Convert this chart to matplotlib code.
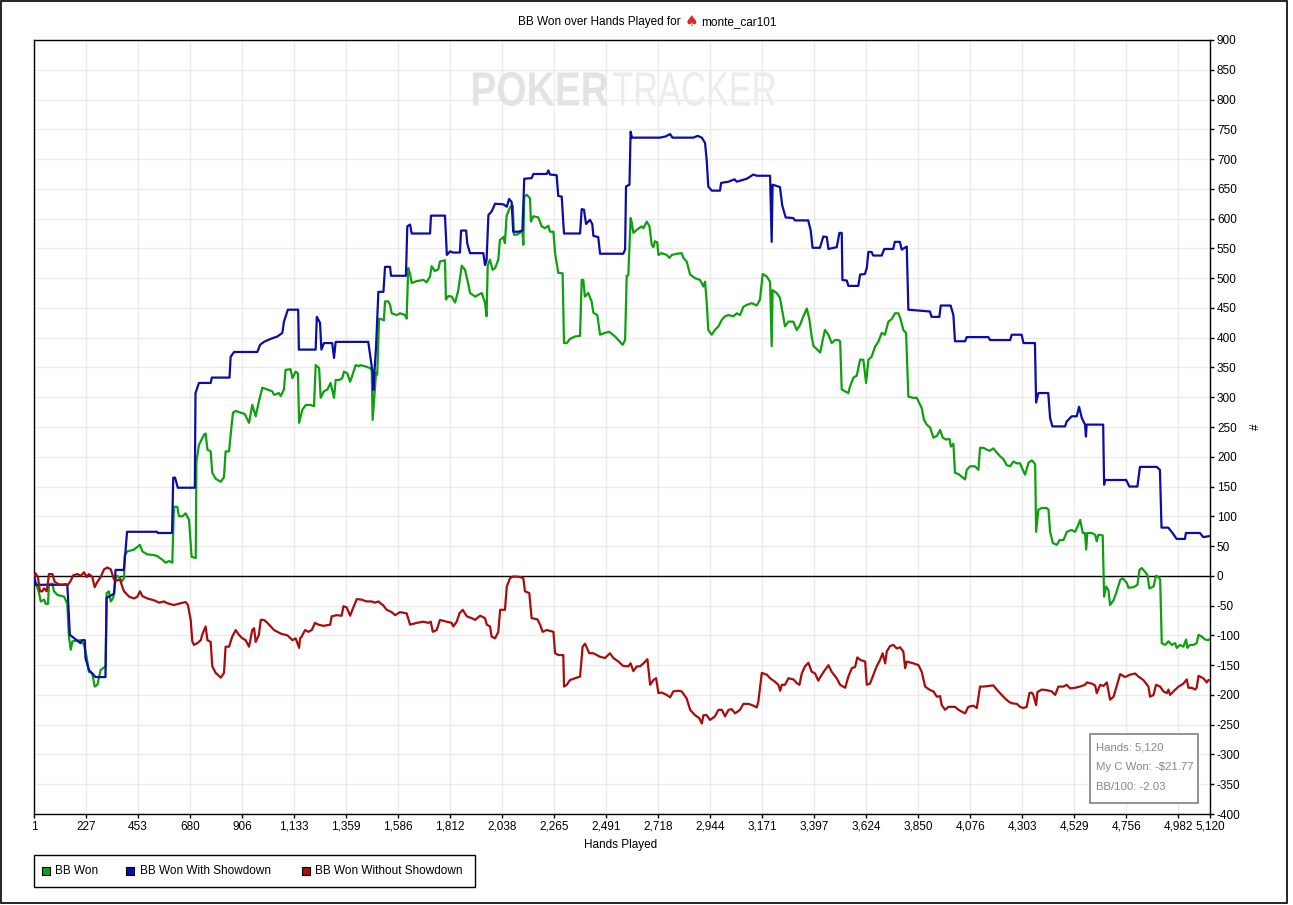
import matplotlib
matplotlib.use('Agg')
import matplotlib.pyplot as plt
from matplotlib.patches import Rectangle, PathPatch
from matplotlib.textpath import TextPath
from matplotlib.font_manager import FontProperties
import matplotlib.transforms as mtransforms

plt.rcParams['font.family'] = ['Liberation Sans', 'DejaVu Sans']

# ---------------- data ----------------
x_ticks = [1, 227, 453, 680, 906, 1133, 1359, 1586, 1812, 2038, 2265, 2491,
           2718, 2944, 3171, 3397, 3624, 3850, 4076, 4303, 4529, 4756, 4982, 5120]
y_ticks = [-400, -350, -300, -250, -200, -150, -100, -50, 0, 50, 100, 150, 200,
           250, 300, 350, 400, 450, 500, 550, 600, 650, 700, 750, 800, 850, 900]

series_names = ["BB Won", "BB Won With Showdown", "BB Won Without Showdown"]

green_hands = [1,8,23,30,45,52,62,66,81,88,103,132,146,153,161,168,204,219,230,240,
    255,265,277,291,313,317,327,335,346,354,361,375,381,393,396,407,436,462,473,494,
    523,538,560,574,589,603,610,625,632,647,661,676,687,705,708,719,741,748,756,770,
    777,792,814,828,835,850,857,867,879,901,918,937,951,966,980,995,1017,1038,1046,1067,
    1075,1089,1096,1118,1126,1140,1150,1155,1169,1184,1205,1220,1227,1242,1249,1263,1278,1292,1307,1314,
    1329,1343,1350,1365,1377,1387,1401,1416,
    1420,1442,1464,1471,1475,1481,1490,1495,1503,1514,1524,1529,1543,1551,1558,1580,1594,1616,1623,1630,
    1638,1645,1667,1696,1710,1725,1732,1746,1761,1768,1790,1794,1805,1819,1834,1848,1863,1877,1892,1899,
    1921,1935,1950,1964,1971,1976,1986,1997,2008,2022,2029,2044,2051,2058,2073,2085,2090,2102,2116,2127,
    2131,2135,2146,2160,2164,2175,2196,2211,2225,2240,2247,2262,2269,2283,2302,2308,2320,2334,2356,2378,
    2385,2392,2399,2414,2428,2436,2453,2465,2486,2505,2530,2545,2563,2574,2581,2588,2598,2603,2610,2624,
    2646,
    2654,2668,2680,2690,2697,2704,2714,2719,2733,2755,2767,2777,2799,2820,2828,2842,2857,2878,2900,2915,
    2922,2929,2936,2951,2965,2980,2995,3009,3024,3045,3060,3074,3089,3103,3125,3147,3161,3173,3190,3205,
    3212,3216,3234,3248,3260,3270,3285,3306,3321,3335,3350,3365,3376,3386,3394,3408,3423,3434,3444,3459,
    3473,3488,3502,3510,3517,3531,3546,3553,3568,3582,3589,3597,3611,3623,3633,3647,3662,3676,3691,3705,
    3720,3734,3749,3764,3774,3785,3797,3807,
    3829,3844,3851,3865,3875,3887,3902,3916,3931,3945,3957,3971,3986,3992,4003,4010,4025,4047,4054,4061,
    4076,4097,4112,4119,4134,4148,4160,4177,4192,4206,4221,4235,4250,4264,4279,4293,4305,4315,4330,4344,
    4354,4359,4363,4373,4388,4409,4417,4424,4436,4453,4465,4482,4497,4518,4533,4547,4555,4566,4576,4581,
    4586,4605,4620,4627,4634,4653,4659,4668,4678,4685,4700,4714,4729,4740,4758,4765,4787,4804,4813,4823,
    4837,4848,4856,4874,4885,4896,4903,4910,4925,4939,4954,4968,4975,4990,5004,5016,5022,5033,5048,5062,
    5070,5084,5099,5113,5120]
green_bb = [0,-10,-29,-43,-40,-47,-47,-15,-13,-26,-32,-35,-47,-102,-124,-110,-108,-116,-136,-161,
    -164,-186,-183,-158,-152,-29,-26,-43,-37,-12,0,-3,-10,-4,35,41,44,52,41,36,
    35,33,27,22,25,22,116,116,100,100,105,94,32,30,192,220,237,239,212,209,
    173,163,158,166,209,209,237,274,277,274,272,257,287,268,293,316,313,310,304,307,
    302,313,346,347,332,343,340,257,279,287,287,285,354,349,299,310,313,324,299,329,
    329,332,343,340,326,337,354,352,
    354,352,349,346,262,293,341,338,432,431,429,461,461,455,441,438,441,438,432,517,
    507,492,495,497,493,503,520,512,515,528,530,464,470,469,459,480,521,514,489,475,
    469,472,475,459,436,522,531,514,517,531,564,569,559,604,619,622,573,573,576,579,
    556,637,640,634,595,604,602,587,584,588,578,578,542,509,508,391,391,398,402,403,
    497,497,469,475,461,442,438,405,408,410,402,396,388,396,504,505,601,593,576,581,
    587,
    584,595,587,556,552,562,560,539,542,539,534,539,541,542,534,528,506,500,497,486,
    494,461,413,405,413,419,430,436,438,436,441,438,452,455,458,454,464,507,503,494,
    386,480,475,467,441,419,427,427,413,421,436,449,431,402,386,381,375,396,413,405,
    391,396,396,394,313,310,307,318,333,336,349,363,363,324,363,368,385,393,408,405,
    427,431,441,441,430,413,408,301,
    299,299,293,282,262,254,249,232,235,245,232,229,230,217,222,173,171,164,162,178,
    184,184,178,215,215,212,210,214,207,201,196,186,184,192,189,189,178,170,190,194,
    190,187,74,111,114,114,111,74,55,52,60,60,74,77,74,86,94,72,72,44,
    72,72,69,58,69,68,-35,-18,-24,-49,-41,-26,-7,-4,-12,-20,-19,-15,10,13,
    7,1,-21,-18,0,-2,-6,-113,-116,-110,-116,-113,-121,-116,-119,-107,-121,-116,-116,-113,
    -99,-102,-107,-108,-106]

blue_hands = [1,8,146,157,203,211,222,225,240,269,312,317,350,356,392,399,406,537,540,602,
    607,615,627,701,704,719,770,775,852,857,872,973,985,1002,1031,1060,1082,1089,1106,1151,
    1154,1227,1232,1246,1252,1263,1299,1307,1314,1456,1475,1478,1490,1500,1522,1529,1551,1555,1620,1626,
    1638,1645,1725,1729,1790,1798,1812,1826,1855,1860,1882,1887,1899,1957,1964,1971,1979,1993,2008,2044,
    2059,2069,2080,2087,2109,2127,2135,2167,2175,2233,2240,2247,2276,2283,2298,2308,2378,2385,2395,2404,
    2421,2431,2436,2457,2465,2566,2574,2578,2593,2598,2604,2726,2750,2770,2780,2871,2890,2908,2922,2929,
    2936,2951,2987,2992,3024,3050,3060,3104,3132,3147,3205,3212,3216,3248,3258,3273,3306,3313,3371,3382,
    3390,3422,3437,3452,3459,3495,3507,3517,3520,3539,3546,3589,3597,3618,3626,3633,3647,3654,3691,3702,
    3741,3748,3770,3778,3800,3807,3901,3908,3942,3948,3991,4003,4010,4054,4061,4155,4163,4250,4257,4300,
    4308,4358,4363,4373,4416,4424,4434,4489,4496,4518,4540,4550,4562,4576,4580,4583,4655,4659,4663,4755,
    4769,4804,4815,4888,4902,4909,4938,4953,4975,5011,5015,5076,5091,5120]
blue_bb = [0,-15,-15,-99,-113,-108,-108,-138,-158,-170,-170,-37,-30,10,10,40,74,74,72,72,
    165,165,148,148,307,324,324,333,333,368,376,376,388,393,398,402,408,427,447,447,
    380,380,435,425,380,391,391,366,393,393,341,312,385,477,477,519,519,504,504,587,
    590,575,575,605,605,539,545,543,543,580,580,558,542,542,522,530,606,612,625,624,
    620,633,628,578,578,580,667,668,675,675,681,674,673,638,637,575,575,616,615,591,
    598,591,571,569,541,541,548,654,657,746,736,736,738,742,736,736,739,736,727,699,
    654,647,647,660,662,666,662,667,674,672,672,561,657,653,622,602,601,597,597,580,
    551,551,570,569,549,552,576,576,497,496,487,487,506,507,517,544,544,538,538,549,
    549,561,561,548,553,447,444,435,435,454,454,438,394,394,401,401,396,396,405,405,
    391,391,291,307,307,265,251,251,259,268,268,284,265,254,234,254,254,153,161,161,
    150,150,183,183,178,81,81,74,62,62,72,72,65,67]

red_hands = [1,8,18,27,37,45,56,62,66,81,91,103,117,139,149,161,172,190,204,219,
    230,240,255,265,277,291,306,320,335,349,361,375,386,393,415,436,451,462,473,494,
    523,545,567,581,610,639,661,671,683,690,697,712,727,734,748,756,770,777,792,814,
    828,835,850,864,879,893,908,922,937,951,959,966,980,988,1002,1017,1046,1075,1104,1126,
    1140,1155,
    1159,1166,1181,1195,1210,1224,1239,1261,1290,1297,1319,1340,1348,1362,1377,1391,1406,1427,1449,1471,
    1485,1500,1522,1536,1558,1573,1594,1623,1638,1667,1696,1718,1728,1737,1754,1768,1797,1819,1826,1841,
    1853,1867,1885,1906,1921,1943,1964,1972,1986,1993,2008,2022,2030,2051,2059,2073,2088,2117,2131,2138,
    2157,2167,2192,2204,2215,2233,2262,2269,2284,2305,2308,2320,2334,2356,2378,2389,2400,2418,2436,2465,
    2487,2508,2523,2545,2564,2588,2598,2610,2625,2639,2654,2671,2683,2697,2709,2719,2733,2755,2770,2784,
    2806,2820,2842,2857,2878,2897,2908,2915,2929,2944,2965,2980,2995,3009,3024,3038,3053,3074,3089,3111,
    3132,
    3147,3154,3169,3191,3205,3227,3241,3249,3256,3270,3285,3307,3321,3333,3343,3357,3372,3386,3401,3415,
    3430,3444,3459,3473,3495,3510,3532,3546,3561,3575,3585,3597,3619,3626,3640,3655,3669,3684,3695,3706,
    3713,3727,3742,3756,3771,3785,3793,3800,3829,3851,3865,3880,3902,3916,3931,3945,3952,3967,3981,3996,
    4010,4025,4039,4054,4068,4090,4105,4119,4134,4155,4177,4192,4206,4228,4243,4257,4279,4293,4308,4322,
    4334,4344,4351,4363,4369,4388,4409,4431,4446,4460,4482,4496,4511,4533,4554,4576,4584,4605,4620,4627,
    4642,4656,4671,4685,4700,4714,4729,4750,4772,4794,4808,4830,4852,4859,4874,4885,4903,4917,4932,4939,
    4946,4961,4983,5004,5019,5026,5041,5055,5062,5070,5091,5106,5113,5120]
red_bb = [0,4,-2,-26,-26,-21,-26,-10,3,3,-10,-13,-15,-14,-15,-8,1,3,0,6,
    -2,3,-2,-19,-10,-2,11,14,11,-6,-8,-6,-19,-26,-35,-38,-35,-26,-34,-38,
    -41,-45,-43,-46,-49,-46,-44,-49,-74,-110,-116,-113,-108,-98,-85,-108,-111,-152,-163,-171,
    -163,-119,-119,-102,-91,-99,-105,-108,-119,-91,-88,-111,-99,-74,-74,-79,-91,-97,-100,-108,
    -105,-121,
    -105,-102,-91,-94,-91,-79,-82,-84,-82,-68,-66,-67,-51,-53,-67,-53,-39,-40,-43,-43,
    -45,-43,-50,-57,-61,-66,-61,-63,-82,-79,-77,-79,-77,-94,-91,-74,-77,-79,-85,-77,
    -63,-57,-68,-71,-74,-67,-71,-82,-85,-102,-105,-94,-57,-57,-18,-4,-1,-2,-4,-26,
    -29,-71,-73,-82,-94,-91,-94,-130,-133,-133,-186,-183,-175,-172,-169,-119,-114,-130,-130,-136,
    -138,-130,-138,-144,-151,-152,-147,-160,-152,-152,-147,-140,-183,-175,-172,-197,-196,-200,-204,-194,
    -193,-194,-206,-225,-234,-239,-248,-234,-234,-242,-236,-225,-225,-236,-225,-224,-231,-225,-215,-215,
    -218,
    -221,-211,-163,-166,-172,-178,-183,-193,-183,-183,-172,-174,-180,-183,-164,-152,-146,-161,-164,-176,
    -166,-158,-150,-161,-172,-183,-188,-169,-155,-153,-137,-141,-144,-183,-181,-166,-152,-141,-130,-147,
    -127,-118,-116,-122,-120,-127,-155,-144,-147,-150,-161,-186,-192,-194,-203,-202,-217,-225,-220,-220,
    -220,-225,-228,-231,-220,-218,-222,-186,-186,-185,-184,-191,-197,-206,-211,-214,-215,-220,-222,-220,
    -197,-196,-200,-217,-195,-191,-192,-194,-200,-186,-186,-183,-189,-188,-186,-183,-179,-181,-184,-197,
    -183,-185,-179,-208,-203,-185,-165,-170,-166,-164,-169,-175,-186,-203,-200,-183,-186,-194,-197,-191,
    -200,-194,-186,-181,-174,-188,-188,-191,-188,-168,-172,-179,-175,-176]

info_lines = ["Hands: 5,120", "My C Won: -$21.77", "BB/100: -2.03"]

# ---------------- style ----------------
GREEN = '#0ea00e'
BLUE = '#0c0ca6'
RED = '#a80c0c'
GRID = '#ebebeb'

W, H = 1293, 905
fig = plt.figure(figsize=(W / 100, H / 100), dpi=100)
fig.patch.set_facecolor('white')

def fx(px):
    return px / W

def fy(py):
    return 1 - py / H

# outer frame
fig.patches.append(Rectangle((fx(1), fy(903)), fx(1286), 902 / H, transform=fig.transFigure,
                             fill=False, edgecolor='black', lw=1.2))

ax = fig.add_axes([fx(34), fy(814), 1176 / W, 774 / H])

ax.plot(green_hands, green_bb, color=GREEN, lw=1.6, zorder=3)
ax.plot(blue_hands, blue_bb, color=BLUE, lw=1.6, zorder=4)
ax.plot(red_hands, red_bb, color=RED, lw=1.6, zorder=5)
ax.axhline(0, color='black', lw=1, zorder=2)

ax.set_xlim(1, 5120)
ax.set_ylim(-400, 900)
ax.set_xticks(x_ticks)
ax.set_xticklabels([f'{v:,}' for v in x_ticks])
ax.yaxis.tick_right()
ax.set_yticks(y_ticks)
ax.set_yticklabels([str(v) for v in y_ticks])
ax.grid(True, color=GRID, lw=1, zorder=0)
ax.set_axisbelow(True)
ax.tick_params(axis='both', labelsize=8.5, length=3, width=1, pad=2, color='black')
for s in ax.spines.values():
    s.set_color('black')
    s.set_linewidth(1)

# watermark, stretched to the reference box (pixel coordinates)
def add_watermark(text, x0, x1, ytop, ybot, weight, color):
    fp = FontProperties(family='Liberation Sans', weight=weight)
    tp = TextPath((0, 0), text, size=100, prop=fp)
    bb = tp.get_extents()
    sx = (x1 - x0) / bb.width
    sy = (ybot - ytop) / bb.height
    tr = (mtransforms.Affine2D().translate(-bb.x0, -bb.y0).scale(sx, sy)
          .translate(x0, H - ybot))
    patch = PathPatch(tp, transform=tr, facecolor=color, edgecolor='none', zorder=1)
    patch.set_clip_on(False)
    ax.add_artist(patch)

add_watermark('POKER', 473, 608, 72, 106, 'bold', '#e3e3e3')
add_watermark('TRACKER', 613, 775, 72, 106, 'normal', '#ececec')

# title
fig.text(fx(681), fy(22), 'BB Won over Hands Played for', ha='right', va='center', fontsize=8.5)
fig.text(fx(691), fy(21), '\u2660', ha='center', va='center', fontsize=11, color='#e02828',
         family=['DejaVu Sans'])
fig.text(fx(701), fy(22), 'monte_car101', ha='left', va='center', fontsize=8.5)

# axis labels
fig.text(fx(621), fy(845), 'Hands Played', ha='center', va='center', fontsize=8.5)
fig.text(fx(1256), fy(427), '#', ha='center', va='center', fontsize=8.5, rotation=90)

# info box
fig.patches.append(Rectangle((fx(1090), fy(803)), 108 / W, 69 / H, transform=fig.transFigure,
                             facecolor='white', edgecolor='#808080', lw=1.2, zorder=10))
for i, line in enumerate(info_lines):
    fig.text(fx(1096), fy(747 + i * 20), line, ha='left', va='center', fontsize=8.2,
             color='#8a8095', zorder=11)

# legend (manual)
fig.patches.append(Rectangle((fx(34), fy(887)), 441 / W, 32 / H, transform=fig.transFigure,
                             facecolor='white', edgecolor='black', lw=1))
leg_sq_x = [42, 126, 302]
leg_txt_x = [55, 140, 315]
leg_cols = [GREEN, BLUE, RED]
for sx, tx, c, name in zip(leg_sq_x, leg_txt_x, leg_cols, series_names):
    fig.patches.append(Rectangle((fx(sx), fy(875)), 8 / W, 8 / H, transform=fig.transFigure,
                                 facecolor=c, edgecolor='black', lw=0.8))
    fig.text(fx(tx), fy(871), name, ha='left', va='center', fontsize=8.5)

fig.savefig('out.png', dpi=100, facecolor='white')
